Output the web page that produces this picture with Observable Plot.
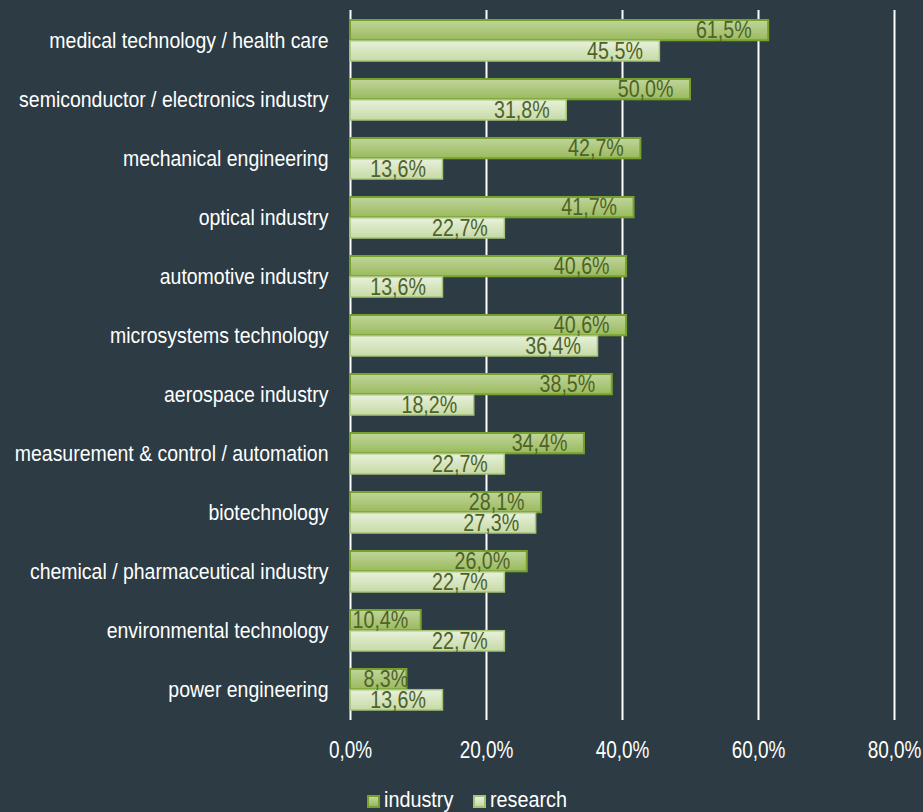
<!DOCTYPE html>
<html>
<head>
<meta charset="utf-8">
<script src="https://cdn.jsdelivr.net/npm/d3@7"></script>
<script src="https://cdn.jsdelivr.net/npm/@observablehq/plot@0.6"></script>
<style>
  html, body { margin: 0; padding: 0; background: #2c3b44; }
  #chart { width: 923px; position: relative; }
  .legend { position: relative; height: 30px; width: 923px;
    font-family: "Liberation Sans", Arial, sans-serif; font-size: 22px; color: #ffffff; }
  .legend .sw { position: absolute; top: 13px; width: 13px; height: 13px; box-sizing: border-box; }
  .legend .lt { position: absolute; top: 6px; line-height: 24px; transform: scaleX(0.9); transform-origin: left center; white-space: nowrap; }
</style>
</head>
<body>
<div id="chart"></div>
<script>
const categories = [
  "medical technology / health care",
  "semiconductor / electronics industry",
  "mechanical engineering",
  "optical industry",
  "automotive industry",
  "microsystems technology",
  "aerospace industry",
  "measurement & control / automation",
  "biotechnology",
  "chemical / pharmaceutical industry",
  "environmental technology",
  "power engineering"
];
const industry = [61.5, 50.0, 42.7, 41.7, 40.6, 40.6, 38.5, 34.4, 28.1, 26.0, 10.4, 8.3];
const research = [45.5, 31.8, 13.6, 22.7, 13.6, 36.4, 18.2, 22.7, 27.3, 22.7, 22.7, 13.6];
const xTicks = [0, 20, 40, 60, 80];
const seriesNames = ["industry", "research"];

const fmt = v => v.toFixed(1).replace(".", ",") + "%";
const indData = categories.map((c, i) => ({category: c, value: industry[i]}));
const resData = categories.map((c, i) => ({category: c, value: research[i]}));

const font = '"Liberation Sans", Arial, sans-serif';

const defs = () => {
  const d = d3.create("svg:defs");
  const g1 = d.append("linearGradient").attr("id", "gInd").attr("x1", 0).attr("y1", 0).attr("x2", 0).attr("y2", 1);
  g1.append("stop").attr("offset", "0%").attr("stop-color", "#c0d59c");
  g1.append("stop").attr("offset", "100%").attr("stop-color", "#9aba5c");
  const g2 = d.append("linearGradient").attr("id", "gRes").attr("x1", 0).attr("y1", 0).attr("x2", 0).attr("y2", 1);
  g2.append("stop").attr("offset", "0%").attr("stop-color", "#e8f1dc");
  g2.append("stop").attr("offset", "100%").attr("stop-color", "#c6daa5");
  return d.node();
};

const chart = Plot.plot({
  width: 923,
  height: 782,
  marginLeft: 350,
  marginRight: 29,
  marginTop: 10,
  marginBottom: 62,
  style: {background: "#2c3b44", color: "#ffffff", fontFamily: font},
  x: {domain: [0, 80], ticks: xTicks, tickFormat: fmt, tickSize: 0, tickPadding: 20, label: null},
  y: {domain: categories, paddingInner: 0.3, paddingOuter: 0.15, align: 0.5, tickSize: 0, tickPadding: 22, label: null},
  marks: [
    defs,
    Plot.ruleX(xTicks, {stroke: "#ffffff", strokeWidth: 2, strokeOpacity: 1}),
    Plot.barX(indData, {x: "value", y: "category", insetBottom: 20.7, fill: "url(#gInd)", stroke: "#76a12d", strokeWidth: 2}),
    Plot.barX(resData, {x: "value", y: "category", insetTop: 20.7, fill: "url(#gRes)", stroke: "#a5c378", strokeWidth: 1.5}),
    Plot.text(indData, {x: d => Math.max(d.value, 11), y: "category", dy: -10.5, dx: -17, text: d => fmt(d.value), textAnchor: "end", fill: "#4f6228", fontSize: 24}),
    Plot.text(resData, {x: d => Math.max(d.value, 11), y: "category", dy: 10, dx: -17, text: d => fmt(d.value), textAnchor: "end", fill: "#4f6228", fontSize: 24})
  ]
});

const svg = d3.select(chart);
function squeeze(sel, s) {
  sel.each(function() {
    const x = this.getAttribute("x");
    let t = this.getAttribute("transform") || "";
    if (x !== null && !isNaN(+x)) { t += ` translate(${+x},0)`; this.removeAttribute("x"); }
    this.setAttribute("transform", (t + ` scale(${s},1)`).trim());
  });
}
const yLab = svg.selectAll("g[aria-label='y-axis tick label']").attr("font-size", 22).attr("fill", "#ffffff");
const xLab = svg.selectAll("g[aria-label='x-axis tick label']").attr("font-size", 24).attr("fill", "#ffffff");
squeeze(yLab.selectAll("text"), 0.885);
squeeze(xLab.selectAll("text"), 0.79);
squeeze(svg.selectAll("g[aria-label='text'] text"), 0.82);
document.getElementById("chart").appendChild(chart);

const legend = document.createElement("div");
legend.className = "legend";
const swatches = [
  {fill: "linear-gradient(#c0d59c,#9aba5c)", stroke: "#76a12d", sx: 367, tx: 384},
  {fill: "linear-gradient(#e8f1dc,#c6daa5)", stroke: "#a5c378", sx: 473, tx: 490}
];
seriesNames.forEach((n, i) => {
  const sw = document.createElement("span");
  sw.className = "sw";
  sw.style.left = swatches[i].sx + "px";
  sw.style.background = swatches[i].fill;
  sw.style.border = "2px solid " + swatches[i].stroke;
  const t = document.createElement("span");
  t.className = "lt";
  t.style.left = swatches[i].tx + "px";
  t.textContent = n;
  legend.appendChild(sw); legend.appendChild(t);
});
document.getElementById("chart").appendChild(legend);
</script>
</body>
</html>
